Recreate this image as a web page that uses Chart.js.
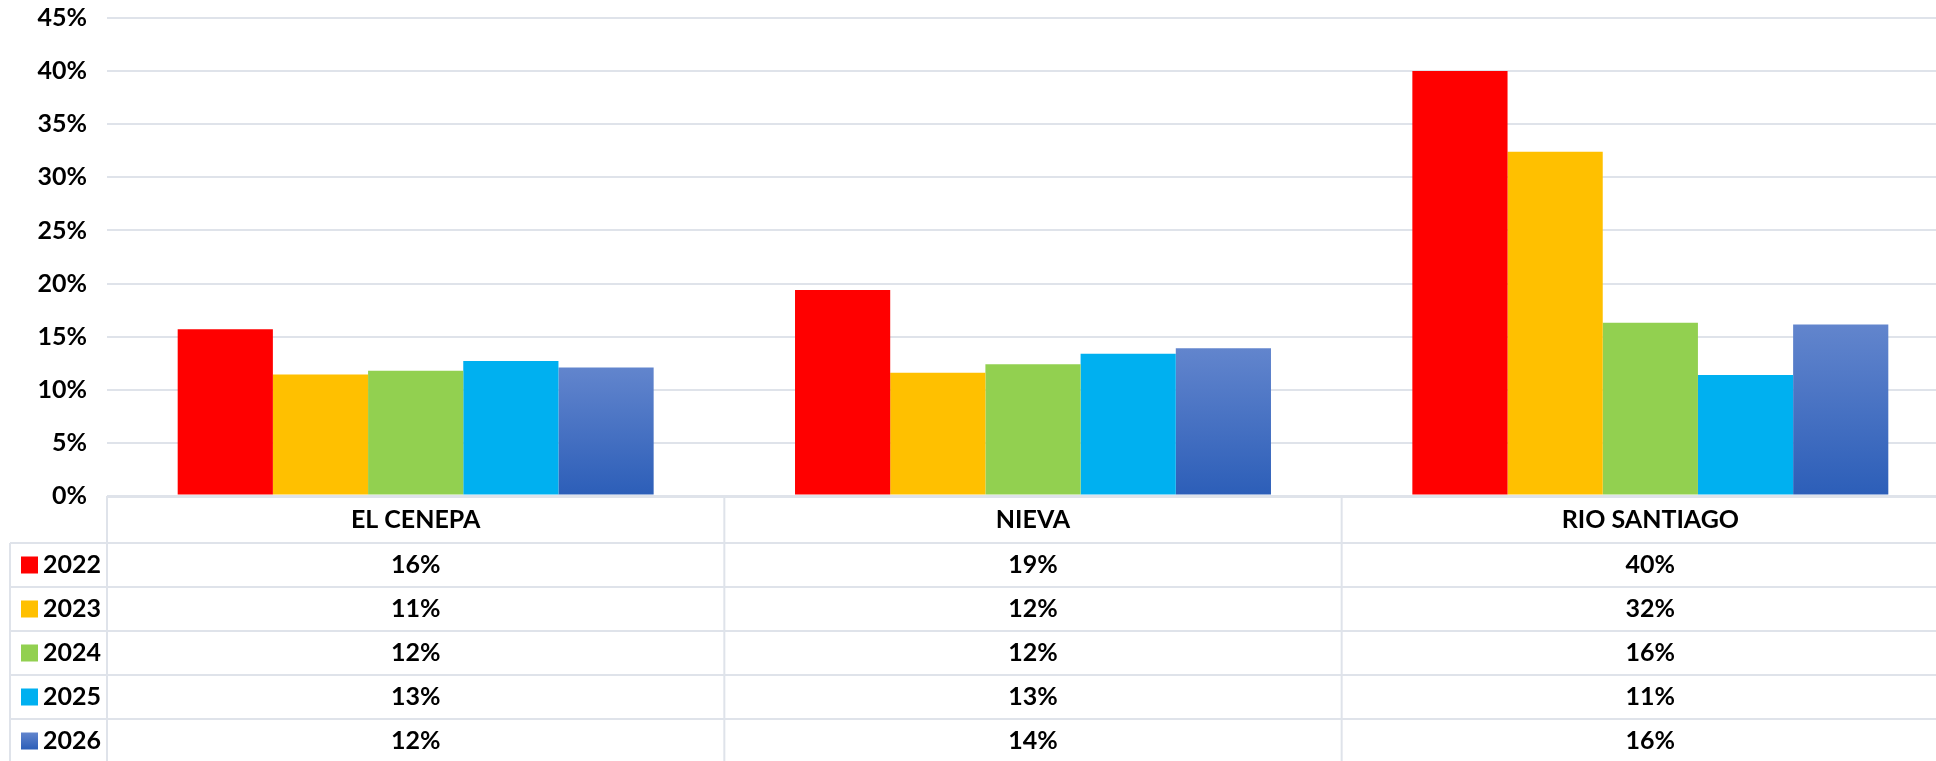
<!DOCTYPE html>
<html>
  <head>
    <title>Distritos 2022-2026</title>
    <script src="https://cdn.jsdelivr.net/npm/chart.js"></script>
    <style>
      body,
      html {
        margin: 0;
        padding: 0;
        width: 100%;
        height: 100%;
        overflow: hidden;
        background-color: white;
      }
      #wrap {
        width: 1959px; /* plot runs past the right edge, like the original */
        height: 761px;
        position: relative;
      }
    </style>
  </head>
  <body>
    <div id="wrap">
      <canvas id="chartCanvas"></canvas>
    </div>
    <script>
      const categories = ["EL CENEPA", "NIEVA", "RIO SANTIAGO"];
      const years = ["2022", "2023", "2024", "2025", "2026"];
      const values2022 = [15.7, 19.4, 40.0];
      const values2023 = [11.45, 11.6, 32.4];
      const values2024 = [11.8, 12.4, 16.3];
      const values2025 = [12.7, 13.4, 11.4];
      const values2026 = [12.1, 13.9, 16.15];
      const yTicks = [0, 5, 10, 15, 20, 25, 30, 35, 40, 45];

      const seriesValues = [values2022, values2023, values2024, values2025, values2026];
      const colors = ["#ff0000", "#ffc000", "#92d050", "#00b0f0", null];
      const blueTop = "#6285cd";
      const blueBottom = "#2c5eb8";
      const gridColor = "#dfe3ea";
      const fontFamily = "Lato, 'Open Sans', sans-serif";

      function blueGradient(ctx, y0, y1) {
        const g = ctx.createLinearGradient(0, y0, 0, y1);
        g.addColorStop(0, blueTop);
        g.addColorStop(1, blueBottom);
        return g;
      }

      // each blue bar gets its own top-to-bottom gradient
      function blueBar(context) {
        const chart = context.chart;
        const y = chart.scales.y;
        if (!chart.chartArea || !y || context.parsed == null) return blueBottom;
        const top = y.getPixelForValue(context.parsed.y);
        const bottom = y.getPixelForValue(0);
        if (!isFinite(top) || top === bottom) return blueBottom;
        return blueGradient(chart.ctx, top, bottom);
      }

      const datasets = years.map((yr, i) => ({
        label: yr,
        data: seriesValues[i],
        backgroundColor: colors[i] || blueBar,
        borderWidth: 0,
      }));

      function line(ctx, x0, y0, x1, y1) {
        ctx.beginPath();
        ctx.moveTo(x0, y0);
        ctx.lineTo(x1, y1);
        ctx.stroke();
      }

      const dataTable = {
        id: "dataTable",
        afterDraw(chart) {
          const ctx = chart.ctx;
          const area = chart.chartArea;
          const colW = (area.right - area.left) / categories.length;
          const top = area.bottom;
          const headH = 47;
          const rowH = 44;
          const legendLeft = 10;

          ctx.save();
          ctx.strokeStyle = gridColor;
          ctx.lineWidth = 2;
          for (let i = 0; i <= years.length; i++) {
            const y = top + headH + i * rowH;
            line(ctx, legendLeft, y, chart.width, y);
          }
          for (let c = 0; c <= categories.length; c++) {
            const x = area.left + c * colW;
            line(ctx, x, top, x, chart.height);
          }
          line(ctx, legendLeft, top + headH, legendLeft, chart.height);

          ctx.fillStyle = "#000";
          ctx.font = "bold 25px " + fontFamily;
          ctx.textAlign = "center";
          ctx.textBaseline = "middle";
          categories.forEach((cat, i) => {
            ctx.fillText(cat, area.left + colW * (i + 0.5), top + headH / 2);
          });

          years.forEach((yr, r) => {
            const yc = top + headH + r * rowH + rowH / 2;
            ctx.fillStyle = colors[r] || blueGradient(ctx, yc - 8.5, yc + 8.5);
            ctx.fillRect(21, yc - 8.5, 17, 17);
            ctx.fillStyle = "#000";
            ctx.textAlign = "left";
            ctx.fillText(yr, 43, yc);
            ctx.textAlign = "center";
            seriesValues[r].forEach((v, c) => {
              ctx.fillText(Math.round(v) + "%", area.left + colW * (c + 0.5), yc);
            });
          });
          ctx.restore();
        },
      };

      var ctx = document.getElementById("chartCanvas");

      var chart = new Chart(ctx, {
        type: "bar",
        data: {
          labels: categories,
          datasets: datasets,
        },
        plugins: [dataTable],
        options: {
          responsive: true,
          maintainAspectRatio: false,
          animation: false,
          layout: {
            padding: { top: 18, right: 0, bottom: 265, left: 0 },
          },
          datasets: {
            bar: {
              categoryPercentage: 0.771,
              barPercentage: 1.0,
            },
          },
          scales: {
            x: {
              display: false,
            },
            y: {
              min: 0,
              max: 45,
              afterBuildTicks: (scale) => {
                scale.ticks = yTicks.map((v) => ({ value: v }));
              },
              afterFit: (scale) => {
                scale.width = 107;
                // labels fit inside the layout padding already
                scale.paddingTop = 0;
                scale.paddingBottom = 0;
              },
              border: { display: false },
              grid: {
                color: gridColor,
                lineWidth: (c) => (c.tick && c.tick.value === 0 ? 3 : 2),
                drawTicks: false,
              },
              ticks: {
                padding: 20,
                color: "#000",
                font: { family: fontFamily, size: 25, weight: "bold" },
                callback: (v) => v + "%",
              },
            },
          },
          plugins: {
            legend: { display: false },
            tooltip: { enabled: false },
          },
        },
      });
    </script>
  </body>
</html>
